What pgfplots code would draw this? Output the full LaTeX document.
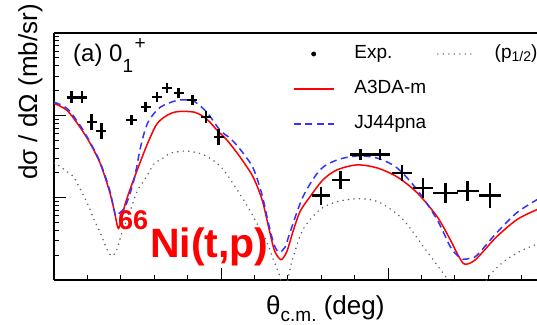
\documentclass[border=0pt]{standalone}
\usepackage{pgfplots}
\pgfplotsset{compat=1.18}
\usepackage{fontspec}
\setmainfont{Liberation Sans}
\definecolor{myblue}{RGB}{51,51,255}
\definecolor{mygray}{RGB}{95,95,95}
\pgfplotsset{
  linelegend/.style={legend image code/.code={\draw[##1] (0pt,0pt) -- (40pt,0pt); \path (60pt,0pt);}},
  dotlegend/.style={legend image code/.code={\path (-10pt,0pt) (57pt,0pt); \draw[##1] (1pt,0pt) -- (37pt,0pt);}},
  marklegend/.style={legend image code/.code={\path (0pt,0pt) (60pt,0pt); \draw[##1] plot coordinates {(20pt,0pt)};}},
}
\pgfplotstableread{
x y ex eyp eym
1.05 16.5 0.30 0.181 0.153
1.66 16.5 0.30 0.181 0.153
2.25 8.35 0.30 0.248 0.199
2.84 6.51 0.30 0.248 0.199
4.64 8.83 0.30 0.149 0.130
5.48 12.5 0.30 0.149 0.130
6.15 16.7 0.30 0.149 0.130
6.75 21.4 0.30 0.149 0.130
7.46 18.7 0.30 0.149 0.130
8.29 15.2 0.30 0.149 0.130
9.10 9.46 0.30 0.181 0.153
9.85 5.51 0.30 0.248 0.199
15.97 1.06 0.54 0.284 0.221
17.16 1.65 0.54 0.284 0.221
18.35 3.34 0.60 0.181 0.153
19.52 3.34 0.60 0.181 0.153
20.84 2.00 0.60 0.248 0.199
22.10 1.32 0.60 0.320 0.242
23.44 1.15 0.72 0.320 0.242
24.76 1.21 0.66 0.320 0.242
26.11 1.06 0.66 0.434 0.303
}\expdata
\pgfplotstableread{
x y
0.000 13.95
0.778 11.49
1.557 7.17
2.156 4.60
2.754 2.64
3.293 1.25
3.593 0.717
3.772 0.473
3.862 0.423
4.012 0.514
4.251 0.824
4.611 1.357
5.210 2.87
5.689 5.00
6.168 7.90
6.766 10.0
7.305 11.02
7.844 11.17
8.443 10.87
8.922 9.72
9.341 8.24
9.760 6.60
10.359 5.00
11.138 3.12
11.916 1.79
12.455 0.946
12.814 0.473
13.174 0.236
13.473 0.184
13.653 0.179
13.952 0.224
14.311 0.389
14.731 0.678
15.329 1.028
16.108 1.648
16.946 2.175
18.144 2.50
19.341 2.30
20.539 1.79
21.737 1.149
22.934 0.590
23.713 0.312
24.132 0.2115
24.491 0.160
24.731 0.156
25.030 0.165
25.329 0.184
25.928 0.250
26.527 0.339
27.725 0.543
28.922 0.717
}\reddata
\pgfplotstableread{
x y
0.000 14.46
0.778 12.14
1.557 7.58
2.156 4.73
2.754 2.72
3.293 1.32
3.533 0.824
3.695 0.599
3.892 0.642
4.293 0.801
4.790 1.648
5.210 4.35
5.629 8.24
6.347 12.49
7.347 15.16
7.904 15.37
8.323 15.16
9.144 10.96
9.940 6.60
10.539 5.28
11.138 3.89
11.916 2.30
12.455 1.087
12.814 0.514
13.174 0.2715
13.473 0.2175
13.832 0.250
14.132 0.379
14.910 1.028
15.928 2.175
16.946 2.87
18.144 3.21
19.341 3.03
20.539 2.30
21.737 1.25
22.934 0.543
23.713 0.257
24.132 0.200
24.491 0.179
24.910 0.184
25.329 0.200
26.527 0.379
27.725 0.660
28.922 0.946
}\bluedata
\pgfplotstableread{
x y
0.00 2.64
0.24 2.50
0.78 2.06
1.20 1.74
1.98 0.871
2.40 0.543
2.81 0.358
3.17 0.236
3.47 0.195
3.77 0.236
4.07 0.379
4.49 0.624
4.97 1.18
5.57 1.84
5.99 2.57
6.53 3.03
7.01 3.49
7.96 3.68
8.98 3.30
10.00 2.36
10.96 1.25
11.80 0.659
12.34 0.411
12.75 0.287
13.17 0.169
13.53 0.109
13.77 0.059
14.01 0.103
14.25 0.169
14.91 0.411
15.93 0.717
16.95 0.895
18.32 0.972
19.52 0.871
20.90 0.543
22.10 0.257
23.11 0.136
23.53 0.103
24.73 0.039
25.93 0.103
26.89 0.165
27.90 0.223
28.92 0.272
}\graydata
\begin{document}
\begin{tikzpicture}
\useasboundingbox (0pt,0pt) rectangle (537pt,324pt);
\begin{axis}[
  at={(54pt,44pt)}, anchor=south west,
  scale only axis, width=483pt, height=247pt,
  xmin=0, xmax=28.92, ymode=log, ymin=0.1, ymax=100,
  axis x line*=box, axis y line*=left,
  axis line style={line width=1.5pt, black},
  every axis x line/.append style={-},
  every axis y line/.append style={-},
  xtick={0,10,20}, minor xtick={2,4,6,8,12,14,16,18,22,24,26,28},
  xtick pos=left, ytick pos=left,
  ytick={0.1,1,10,100},
  xticklabels={}, yticklabels={},
  tick align=inside,
  major tick length=12pt, minor tick length=5pt,
  every tick/.style={black, line width=1pt},
  legend columns=2,
  legend cell align=left,
  legend style={draw=none, fill=none, inner sep=0pt, outer sep=0pt,
    at={(axis description cs:0.4948,0.9494)}, anchor=north west,
    font=\fontsize{19}{22}\selectfont, column sep=0pt, row sep=18pt,
    nodes={inner sep=0pt, text height=13pt, text depth=4pt}},
]
\addplot[forget plot, mygray, line width=1.7pt, dash pattern=on 0pt off 5.5pt, line cap=round, smooth] table {\graydata};
\addplot[forget plot, red, line width=1.5pt, smooth] table {\reddata};
\addplot[forget plot, myblue, line width=1.5pt, dash pattern=on 7pt off 4.5pt, smooth] table {\bluedata};
\addplot[forget plot, only marks, mark=*, mark size=1.6pt, black,
  error bars/.cd, x dir=both, x explicit, y dir=both, y explicit relative,
  error mark=none, error bar style={line width=2.2pt, black}]
  table[x=x, y=y, x error=ex, y error plus=eyp, y error minus=eym] {\expdata};
\addlegendimage{black, mark=*, mark size=2.2pt, marklegend}
\addlegendentry{Exp.}
\addlegendimage{mygray, line width=1.5pt, dash pattern=on 0pt off 5.5pt, line cap=round, dotlegend}
\addlegendentry{(p\raisebox{-3.5pt}{\fontsize{14}{14}\selectfont 1/2})\raisebox{9pt}{\fontsize{14}{14}\selectfont 2}}
\addlegendimage{red, line width=1.4pt, linelegend}
\addlegendentry{A3DA-m}
\addlegendimage{empty legend}
\addlegendentry{}
\addlegendimage{myblue, line width=1.4pt, dash pattern=on 7pt off 4.5pt, linelegend}
\addlegendentry{JJ44pna}
\end{axis}
\node[anchor=base west, inner sep=0pt] at (73pt,262pt) {\fontsize{24}{24}\selectfont (a) 0\raisebox{-11pt}{\fontsize{19}{19}\selectfont 1}\hspace{1.5pt}\raisebox{12.5pt}{\fontsize{19}{19}\selectfont +}};
\node[anchor=base west, inner sep=0pt, text=red] at (118pt,67pt) {\bfseries\raisebox{27pt}{\fontsize{27}{27}\selectfont 66}\hspace{2pt}\fontsize{41}{41}\selectfont Ni(t,p)};
\node[rotate=90, anchor=base west, inner sep=0pt] at (37pt,144pt) {\fontsize{26}{26}\selectfont dσ / dΩ (mb/sr)};
\node[anchor=base west, inner sep=0pt] at (266pt,10pt) {\fontsize{26}{26}\selectfont θ\raisebox{-7pt}{\fontsize{19}{19}\selectfont c.m.}\ (deg)};
\end{tikzpicture}
\end{document}
